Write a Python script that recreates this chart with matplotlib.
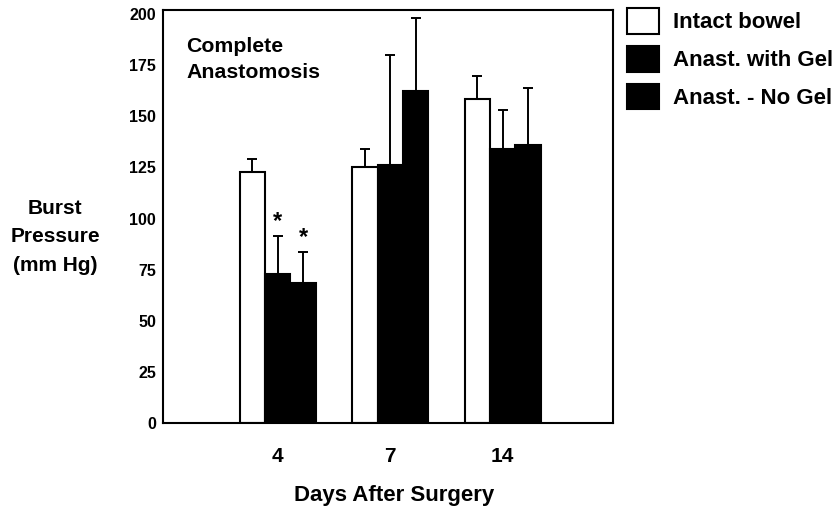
import matplotlib
matplotlib.use("Agg")
import matplotlib.pyplot as plt
import numpy as np

plt.rcParams['font.family'] = ['Liberation Sans', 'DejaVu Sans']
plt.rcParams['font.weight'] = 'bold'

# Data: burst pressure (mm Hg), mean and upper SD, by days after surgery
days = ["4", "7", "14"]
series = ["Intact bowel", "Anast. with Gel", "Anast. - No Gel"]
intact_mean = [123, 125, 158.5]
intact_err = [6, 9, 11]
gel_mean = [73, 126, 134]
gel_err = [18.5, 54, 19]
nogel_mean = [68.5, 162.5, 136]
nogel_err = [15, 35.5, 28]
significant_gel = [True, False, False]
significant_nogel = [True, False, False]
yticks = [0, 25, 50, 75, 100, 125, 150, 175, 200]

W, H = 836, 511
fig = plt.figure(figsize=(W / 100, H / 100), dpi=100)


def fx(x):
    return x / W


def fy(y):
    return 1 - y / H


ax = fig.add_axes([fx(163), fy(423), fx(613) - fx(163), fy(10) - fy(423)])

x = np.arange(len(days))
w = 0.225
ekw = dict(elinewidth=1.4, capthick=1.4, ecolor="black")
cap = 3.8


def upper(err):
    return [np.zeros(len(err)), err]


b1 = ax.bar(x - w, intact_mean, w, color="white", edgecolor="black", linewidth=1.5,
            yerr=upper(intact_err), capsize=cap, error_kw=ekw, label=series[0], zorder=2)
b2 = ax.bar(x, gel_mean, w, color="black", edgecolor="black", linewidth=1.5,
            yerr=upper(gel_err), capsize=cap, error_kw=ekw, label=series[1], zorder=2)
b3 = ax.bar(x + w, nogel_mean, w, color="black", edgecolor="black", linewidth=1.5,
            yerr=upper(nogel_err), capsize=cap, error_kw=ekw, label=series[2], zorder=2)

# significance markers above the error bars
for i in range(len(days)):
    if significant_gel[i]:
        ax.text(x[i], gel_mean[i] + gel_err[i] + 4, "*", ha="center", va="baseline",
                fontsize=17, fontweight="bold")
    if significant_nogel[i]:
        ax.text(x[i] + w, nogel_mean[i] + nogel_err[i] + 4, "*", ha="center", va="baseline",
                fontsize=17, fontweight="bold")

ax.set_xlim(-1.02, 2.98)
ax.set_ylim(0, 202)
ax.set_yticks(yticks)
ax.set_yticklabels([str(t) for t in yticks], fontsize=11.5, fontweight="bold")
ax.set_xticks(x)
ax.set_xticklabels(days, fontsize=15, fontweight="bold")
ax.tick_params(axis="y", length=0, pad=5)
ax.tick_params(axis="x", length=0, pad=17)
for s in ax.spines.values():
    s.set_linewidth(1.5)

fig.text(fx(186), fy(59.5), "Complete\nAnastomosis", ha="left", va="center",
         fontsize=15.3, fontweight="bold", linespacing=1.4)

fig.text(fx(55), fy(237), "Burst\nPressure\n(mm Hg)", ha="center", va="center",
         multialignment="center", fontsize=15, fontweight="bold", linespacing=1.65)
fig.text(fx(394), fy(495), "Days After Surgery", ha="center", va="center",
         fontsize=16, fontweight="bold")

leg = ax.legend(handles=[b1, b2, b3], labels=series, loc="upper left",
                bbox_to_anchor=(fx(627), fy(8)), bbox_transform=fig.transFigure,
                frameon=False, borderpad=0, borderaxespad=0,
                handlelength=1.45, handleheight=1.4, handletextpad=0.6,
                labelspacing=0.55, prop={"size": 16, "weight": "bold"})

fig.savefig("out.png", dpi=100)
